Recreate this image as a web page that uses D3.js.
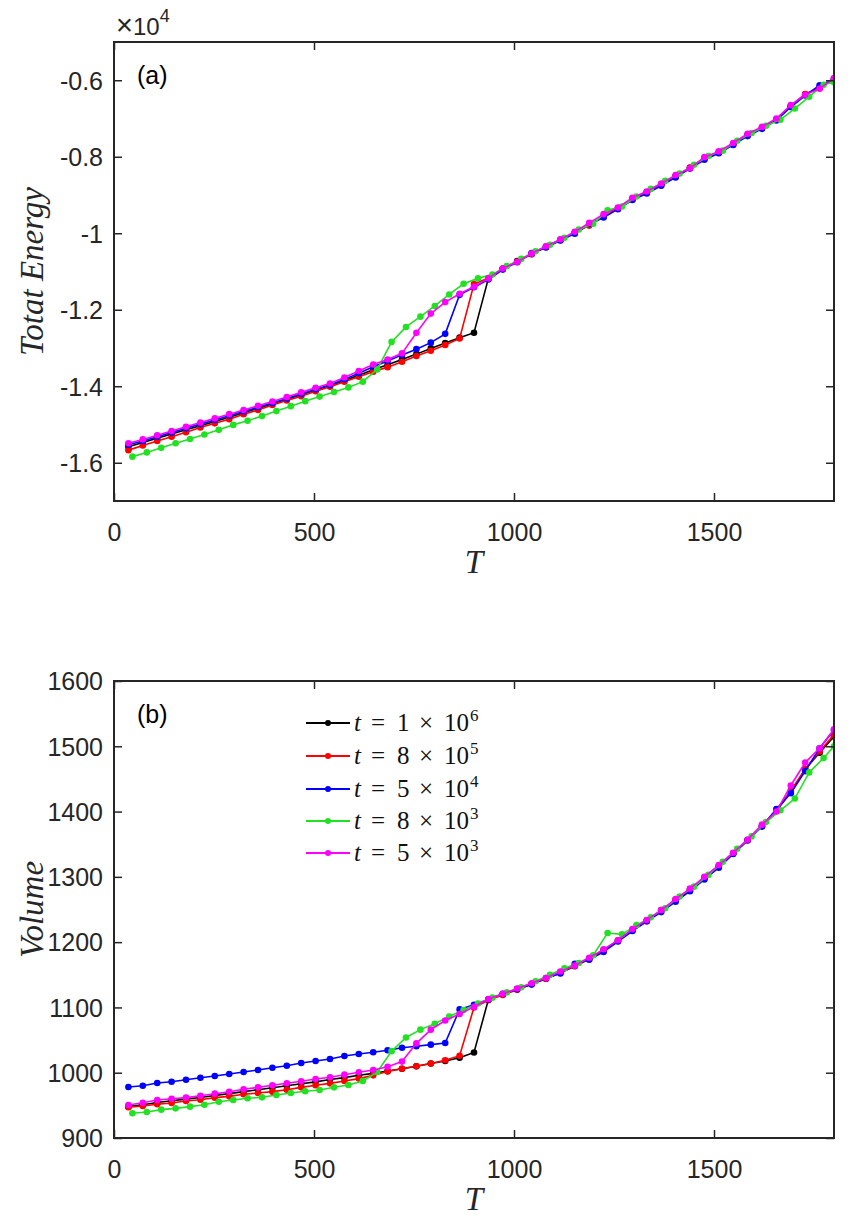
<!DOCTYPE html>
<html><head><meta charset="utf-8">
<script src="https://cdn.jsdelivr.net/npm/d3@7"></script>
<style>
html,body{margin:0;padding:0;background:#fff;}
svg{display:block;}
</style></head><body>
<svg id="chart" width="860" height="1222"></svg>
<script>
// ---------- DATA ----------
const T = [36,72,108,144,180,216,252,288,324,360,396,432,468,504,540,576,612,648,684,720,
  756,792,828,864,900,936,972,1008,1044,1080,1116,1152,1188,1224,1260,1296,1332,1368,1404,1440,
  1476,1512,1548,1584,1620,1656,1692,1728,1764,1800];
const T_green = [46,82,118,154,190,226,262,298,334,370,406,442,478,514,550,586,622,658,694,730,
  766,802,838,874,910,946,982,1018,1054,1090,1126,1162,1198,1234,1270,1306,1342,1378,1414,1450,
  1486,1522,1558,1594,1630,1666,1702,1738,1774,1800];

// Total energy (x 10^4)
const energyBlack = [-1.558,-1.547,-1.536,-1.525,-1.514,-1.503,-1.492,-1.481,-1.469,-1.458,-1.446,-1.434,-1.422,-1.410,-1.398,-1.385,-1.371,-1.357,-1.344,-1.330,
  -1.316,-1.301,-1.287,-1.273,-1.260,-1.118,-1.093,-1.073,-1.055,-1.036,-1.017,-0.999,-0.978,-0.957,-0.934,-0.911,-0.893,-0.873,-0.852,-0.829,
  -0.805,-0.788,-0.767,-0.744,-0.724,-0.703,-0.668,-0.637,-0.619,-0.596];
const energyRed = [-1.567,-1.555,-1.543,-1.532,-1.520,-1.508,-1.497,-1.486,-1.473,-1.462,-1.449,-1.437,-1.426,-1.413,-1.401,-1.388,-1.375,-1.362,-1.350,-1.336,
  -1.321,-1.307,-1.292,-1.275,-1.133,-1.117,-1.092,-1.074,-1.054,-1.035,-1.018,-0.998,-0.980,-0.956,-0.935,-0.910,-0.892,-0.874,-0.851,-0.828,
  -0.804,-0.789,-0.768,-0.742,-0.725,-0.702,-0.667,-0.636,-0.620,-0.597];
const energyBlue = [-1.553,-1.543,-1.532,-1.521,-1.510,-1.499,-1.488,-1.477,-1.466,-1.455,-1.444,-1.432,-1.420,-1.408,-1.397,-1.382,-1.366,-1.349,-1.334,-1.318,
  -1.303,-1.286,-1.263,-1.161,-1.141,-1.121,-1.095,-1.076,-1.052,-1.037,-1.019,-1.001,-0.976,-0.959,-0.937,-0.913,-0.896,-0.876,-0.854,-0.831,
  -0.808,-0.791,-0.769,-0.746,-0.727,-0.705,-0.670,-0.640,-0.613,-0.598];
const energyGreen = [-1.584,-1.573,-1.561,-1.549,-1.538,-1.526,-1.514,-1.501,-1.490,-1.478,-1.465,-1.452,-1.439,-1.427,-1.415,-1.403,-1.388,-1.356,-1.284,-1.245,
  -1.218,-1.190,-1.160,-1.132,-1.118,-1.108,-1.086,-1.067,-1.047,-1.030,-1.012,-0.990,-0.975,-0.940,-0.930,-0.904,-0.884,-0.863,-0.844,-0.821,
  -0.798,-0.784,-0.758,-0.738,-0.719,-0.703,-0.674,-0.643,-0.612,-0.605];
const energyMagenta = [-1.549,-1.539,-1.528,-1.517,-1.506,-1.495,-1.484,-1.473,-1.462,-1.451,-1.440,-1.428,-1.416,-1.404,-1.393,-1.377,-1.360,-1.343,-1.330,-1.314,
  -1.260,-1.210,-1.180,-1.158,-1.140,-1.118,-1.092,-1.075,-1.053,-1.034,-1.016,-0.996,-0.973,-0.950,-0.933,-0.907,-0.891,-0.870,-0.848,-0.830,
  -0.801,-0.786,-0.764,-0.740,-0.722,-0.700,-0.665,-0.638,-0.622,-0.594];

// Volume
const volumeBlack = [948,951,954.5,957,959.5,962,965,968,971,974,977,980,983,986,989.5,992.5,996,999,1002.5,1006,
  1010,1014,1018,1023,1031,1112,1120,1128,1136,1144,1153,1163,1174,1188,1202,1218,1233,1248,1264,1281,
  1298,1316,1336,1356,1378,1401,1430,1465,1490,1515];
const volumeRed = [947,949,951.6,953.6,956.7,958.7,961.8,963.8,966.9,968.9,971,974,977.6,980.7,983.7,987.3,991,996,1002,1006,
  1010,1014,1019,1026,1100,1111,1119,1127,1136,1144,1154,1164,1175,1187,1203,1218,1232,1249,1265,1280,
  1299,1317,1336,1356,1378,1402,1432,1465,1492,1518];
const volumeBlue = [978.1,980.1,984.2,986.2,989.3,992.4,995,998,1001.1,1004.1,1007.7,1010.7,1014.9,1017.9,1021,1025.6,1028.7,1031.3,1034.3,1038.3,
  1040.5,1043,1045.5,1097,1104,1112,1121,1128,1135,1145,1152,1167,1173,1185,1201,1217,1232,1246,1262,1278,
  1296,1314,1335,1356,1377,1404,1428,1462,1497,1525];
const volumeGreen = [937.8,939.8,943.4,945.4,948,951,955.6,958.2,960.8,962.3,965.9,968.9,971.5,973.5,977.6,981.2,987.3,1001,1033,1054,
  1066,1075,1086,1096,1106,1115,1123,1131,1140,1150,1160,1168,1180,1214,1212,1226,1238,1252,1270,1285,
  1303,1323,1343,1362,1384,1402,1420,1460,1482,1500];
const volumeMagenta = [950.5,954.1,958.2,960.2,961.8,964.8,967.9,970.9,974.6,977.6,980.7,983.8,986.8,990.4,993,997,1000.6,1004.1,1009,1017,
  1045,1066,1080,1090,1101,1113,1121,1129,1137,1145,1155,1164,1176,1189,1203,1220,1234,1249,1266,1282,
  1300,1318,1337,1357,1380,1400,1440,1475,1497,1526];

const seriesColors = ["#000000","#ff0000","#0000ff","#22e022","#ff00ff"];
const legendCoef = ["1","8","5","8","5"];
const legendExp = ["6","5","4","3","3"];

const xTicks = [0,500,1000,1500];
const energyTicks = [-1.6,-1.4,-1.2,-1,-0.8,-0.6];
const volumeTicks = [900,1000,1100,1200,1300,1400,1500,1600];

const series = [
  {x:T, e:energyBlack, v:volumeBlack, c:seriesColors[0]},
  {x:T, e:energyRed, v:volumeRed, c:seriesColors[1]},
  {x:T, e:energyBlue, v:volumeBlue, c:seriesColors[2]},
  {x:T_green, e:energyGreen, v:volumeGreen, c:seriesColors[3]},
  {x:T, e:energyMagenta, v:volumeMagenta, c:seriesColors[4]}
];

// ---------- LAYOUT ----------
const svg = d3.select("#chart");
const L = 114, R = 834;
const x = d3.scaleLinear().domain([0,1800]).range([L,R]);
const panels = [
  {top:42, bottom:501, y:d3.scaleLinear().domain([-1.7,-0.5]).range([501,42]), key:"e",
   ticks:energyTicks, fmt:d=>String(+d.toFixed(1)), ylab:"Totat Energy", tag:"(a)"},
  {top:681, bottom:1138, y:d3.scaleLinear().domain([900,1600]).range([1138,681]), key:"v",
   ticks:volumeTicks, fmt:d=>String(d), ylab:"Volume", tag:"(b)"}
];
const axisColor = "#262626";
const sansFont = "'Liberation Sans', Arial, Helvetica, sans-serif";
const serifFont = "'Liberation Serif', 'Times New Roman', serif";

panels.forEach((p, pi) => {
  const g = svg.append("g");
  const y = p.y;
  const clipId = "clip" + pi;
  svg.append("clipPath").attr("id", clipId).append("rect")
    .attr("x", L).attr("y", p.top).attr("width", R-L).attr("height", p.bottom-p.top);

  // data
  const dg = g.append("g").attr("clip-path", `url(#${clipId})`);
  const line = d3.line().x(d=>x(d[0])).y(d=>y(d[1]));
  series.forEach(s => {
    const pts = s.x.map((t,i)=>[t, s[p.key][i]]);
    dg.append("path").datum(pts).attr("d", line)
      .attr("fill","none").attr("stroke", s.c).attr("stroke-width", 1.6);
    dg.selectAll(null).data(pts).enter().append("circle")
      .attr("cx", d=>x(d[0])).attr("cy", d=>y(d[1])).attr("r", 3.3)
      .attr("fill", s.c);
  });

  // axes
  const styleAxis = (sel) => {
    sel.select(".domain").remove();
    sel.selectAll(".tick line").attr("stroke", axisColor).attr("stroke-width", 1.5);
    sel.selectAll(".tick text").attr("fill", axisColor).attr("font-family", sansFont).attr("font-size", 25);
  };
  g.append("g").attr("class","xaxis").attr("transform", `translate(0,${p.bottom})`)
    .call(d3.axisBottom(x).tickValues(xTicks).tickSize(-8).tickPadding(22).tickFormat(d=>String(d)))
    .call(styleAxis);
  g.append("g").attr("transform", `translate(0,${p.top})`)
    .call(d3.axisTop(x).tickValues(xTicks).tickSize(-8).tickFormat(""))
    .call(styleAxis);
  g.append("g").attr("class","yaxis").attr("transform", `translate(${L},0)`)
    .call(d3.axisLeft(y).tickValues(p.ticks).tickSize(-8).tickPadding(11).tickFormat(p.fmt))
    .call(styleAxis);
  g.append("g").attr("transform", `translate(${R},0)`)
    .call(d3.axisRight(y).tickValues(p.ticks).tickSize(-8).tickFormat(""))
    .call(styleAxis);
  g.selectAll(".xaxis .tick text").attr("y", 22).attr("dy", "0.71em");
  g.selectAll(".yaxis .tick text").attr("dy", "0.35em");

  // box
  g.append("rect").attr("x", L).attr("y", p.top).attr("width", R-L).attr("height", p.bottom-p.top)
    .attr("fill","none").attr("stroke", axisColor).attr("stroke-width", 2);

  // x label
  g.append("text").attr("x", (L+R)/2).attr("y", p.bottom + 72)
    .attr("text-anchor","middle").attr("font-family", serifFont).attr("font-style","italic")
    .attr("font-size", 33).attr("fill", axisColor).text("T");
  // y label
  g.append("text").attr("transform", `translate(43,${(p.top+p.bottom)/2}) rotate(-90)`)
    .attr("text-anchor","middle").attr("font-family", serifFont).attr("font-style","italic")
    .attr("font-size", 33).attr("fill", axisColor).text(p.ylab);
  // panel tag
  g.append("text").attr("x", 137).attr("y", p.top + 42)
    .attr("font-family", sansFont).attr("font-size", 25).attr("fill","#000").text(p.tag);
});

// exponent label x10^4
const ex = svg.append("text").attr("x", 116).attr("y", 35)
  .attr("font-family", sansFont).attr("font-size", 24).attr("fill", axisColor);
ex.append("tspan").attr("font-size", 29).text("\u00d7");
ex.append("tspan").attr("font-size", 24).text("10");
ex.append("tspan").attr("font-size", 18).attr("dy", -13).text("4");

// legend
const lg = svg.append("g");
const rowY = [723, 756, 789, 821, 853];
seriesColors.forEach((c, i) => {
  const yy = rowY[i];
  lg.append("line").attr("x1", 306).attr("x2", 350).attr("y1", yy).attr("y2", yy)
    .attr("stroke", c).attr("stroke-width", 2);
  lg.append("circle").attr("cx", 328).attr("cy", yy).attr("r", 3).attr("fill", c);
  const tx = lg.append("text").attr("y", yy + 8).attr("font-family", serifFont)
    .attr("font-size", 25).attr("fill", "#111");
  tx.append("tspan").attr("x", 354).attr("font-style","italic").text("t");
  tx.append("tspan").attr("x", 371).text("=");
  tx.append("tspan").attr("x", 397).text(legendCoef[i]);
  tx.append("tspan").attr("x", 419).text("\u00d7");
  tx.append("tspan").attr("x", 444).text("10");
  tx.append("tspan").attr("x", 470).attr("dy", -10).attr("font-size", 17).text(legendExp[i]);
});
</script>
</body></html>
